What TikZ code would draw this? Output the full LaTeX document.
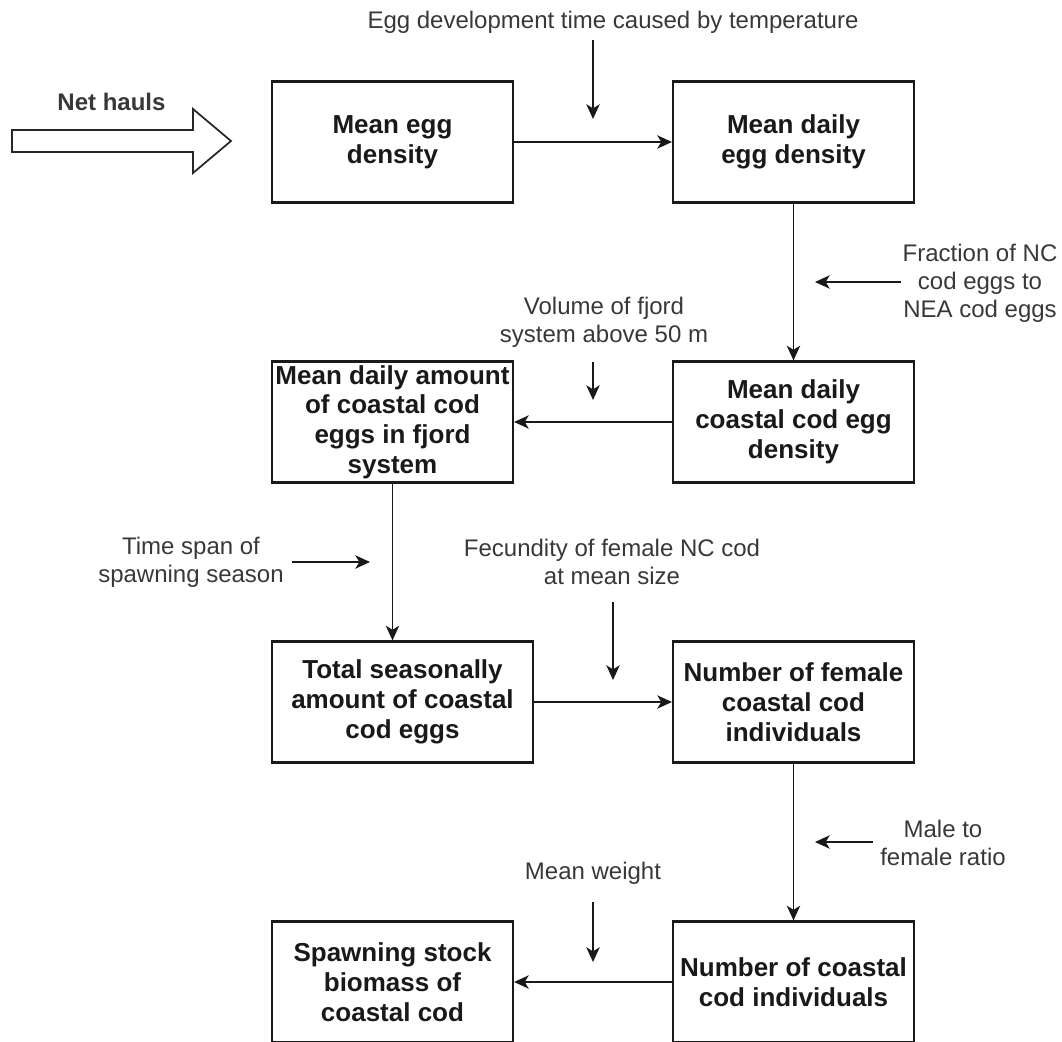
\documentclass[tikz,border=0pt]{standalone}
\usepackage{fontspec}
\setmainfont{Liberation Sans}
\usepackage{tikz}
\usetikzlibrary{positioning,arrows.meta}

\begin{document}
\begin{tikzpicture}[x=0.75pt, y=-0.75pt,
    box/.style={draw=black!90, line width=1.6pt, align=center, inner sep=0pt,
      minimum width=180.75pt, minimum height=90.75pt, text=black!90,
      font=\fontsize{19.5}{22.3}\selectfont\bfseries},
    lbl/.style={align=center, inner sep=0pt, text=black!78,
      font=\fontsize{18}{21}\selectfont},
    feed/.style={-{Stealth[length=11pt,width=10pt,inset=3pt]}, line width=1.3pt, black!90}]
  \useasboundingbox (0,0) rectangle (1062,1041);

  \node[box] (meanEgg) at (392.5,142) {Mean egg\\density};
  \node[box] (dailyEgg) at (793.5,142) {Mean daily\\egg density};
  \node[box] (dailyCoastal) at (793.5,422) {Mean daily\\coastal cod egg\\density};
  \node[box] (dailyFjord) at (392.5,422) {Mean daily amount\\of coastal cod\\eggs in fjord\\system};
  \node[box, minimum width=195.75pt] (seasonTotal) at (402.5,702) {Total seasonally\\amount of coastal\\cod eggs};
  \node[box] (femaleNum) at (793.5,702) {Number of female\\coastal cod\\individuals};
  \node[box] (codNum) at (793.5,982) {Number of coastal\\cod individuals};
  \node[box] (ssb) at (392.5,982) {Spawning stock\\biomass of\\coastal cod};

  \draw[feed] (meanEgg) -- (dailyEgg);
  \draw[feed] (dailyEgg) -- (dailyCoastal);
  \draw[feed] (dailyCoastal) -- (dailyFjord);
  \draw[feed] (dailyFjord) -- (dailyFjord |- seasonTotal.north);
  \draw[feed] (seasonTotal) -- (femaleNum);
  \draw[feed] (femaleNum) -- (codNum);
  \draw[feed] (codNum) -- (ssb);

  \node[lbl, font=\fontsize{18}{21}\selectfont\bfseries] (netHauls) at (111.5,102) {Net hauls};
  \draw[line width=1.3pt, black!85, fill=white] (12,130) -- (193,130) -- (193,109) -- (231,141)
    -- (193,173) -- (193,152) -- (12,152) -- cycle;

  \node[lbl] (tEgg) at (613,22) {Egg development time caused by temperature};
  \node[lbl] (tFrac) at (980,283) {Fraction of NC\\cod eggs to\\NEA cod eggs};
  \node[lbl] (tVol) at (604,322) {Volume of fjord\\system above 50 m};
  \node[lbl] (tSpan) at (191,562) {Time span of\\spawning season};
  \node[lbl] (tFec) at (612,562) {Fecundity of female NC cod\\at mean size};
  \node[lbl] (tMale) at (943,843) {Male to\\female ratio};
  \node[lbl] (tWeight) at (593,873) {Mean weight};

  \coordinate (eggA) at (593,40);   \coordinate (eggB) at (593,119);
  \coordinate (fracA) at (901,282); \coordinate (fracB) at (815,282);
  \coordinate (volA) at (593,362);  \coordinate (volB) at (593,400);
  \coordinate (spanA) at (292,562); \coordinate (spanB) at (370,562);
  \coordinate (fecA) at (613,602);  \coordinate (fecB) at (613,680);
  \coordinate (maleA) at (873,842); \coordinate (maleB) at (815,842);
  \coordinate (wA) at (593,902);    \coordinate (wB) at (593,962);

  \draw[feed] (eggA) -- (eggB);
  \draw[feed] (fracA) -- (fracB);
  \draw[feed] (volA) -- (volB);
  \draw[feed] (spanA) -- (spanB);
  \draw[feed] (fecA) -- (fecB);
  \draw[feed] (maleA) -- (maleB);
  \draw[feed] (wA) -- (wB);
\end{tikzpicture}
\end{document}
